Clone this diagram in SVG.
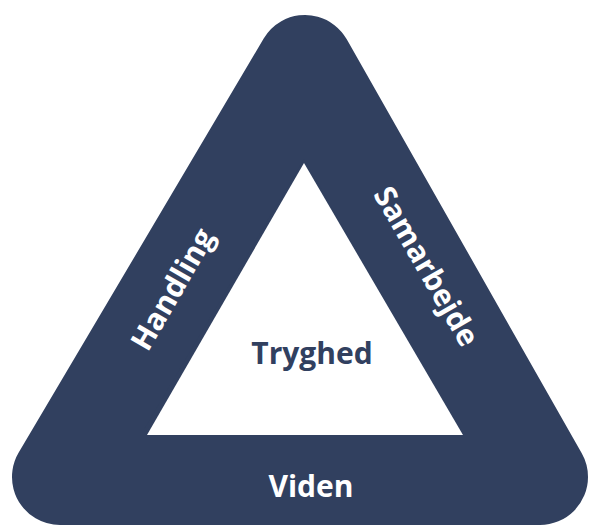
<svg xmlns="http://www.w3.org/2000/svg" width="590" height="526" viewBox="0 0 590 526">
  <style>
    .band { fill: #31405f; stroke: #31405f; stroke-width: 96; stroke-linejoin: round; }
    .inner { fill: #ffffff; }
    .lbl { font-family: "Open Sans", "Liberation Sans", sans-serif; font-weight: 700; font-size: 30px; text-anchor: middle; }
    .white { fill: #ffffff; }
    .navy { fill: #31405f; }
  </style>
  <g id="triangle">
    <polygon class="band" points="305,63 60,477 540,477"/>
    <polygon class="inner" points="304,163 147,435 463,435"/>
  </g>
  <g id="handling">
    <g transform="translate(172,289) rotate(-60)">
      <text class="lbl white" x="0" y="11">Handling</text>
    </g>
  </g>
  <g id="samarbejde">
    <g transform="translate(427,266) rotate(60)">
      <text class="lbl white" x="0" y="11">Samarbejde</text>
    </g>
  </g>
  <g id="viden">
    <text class="lbl white" x="311" y="497">Viden</text>
  </g>
  <g id="tryghed">
    <text class="lbl navy" x="312" y="364">Tryghed</text>
  </g>
  <g id="connectors"></g>
</svg>
